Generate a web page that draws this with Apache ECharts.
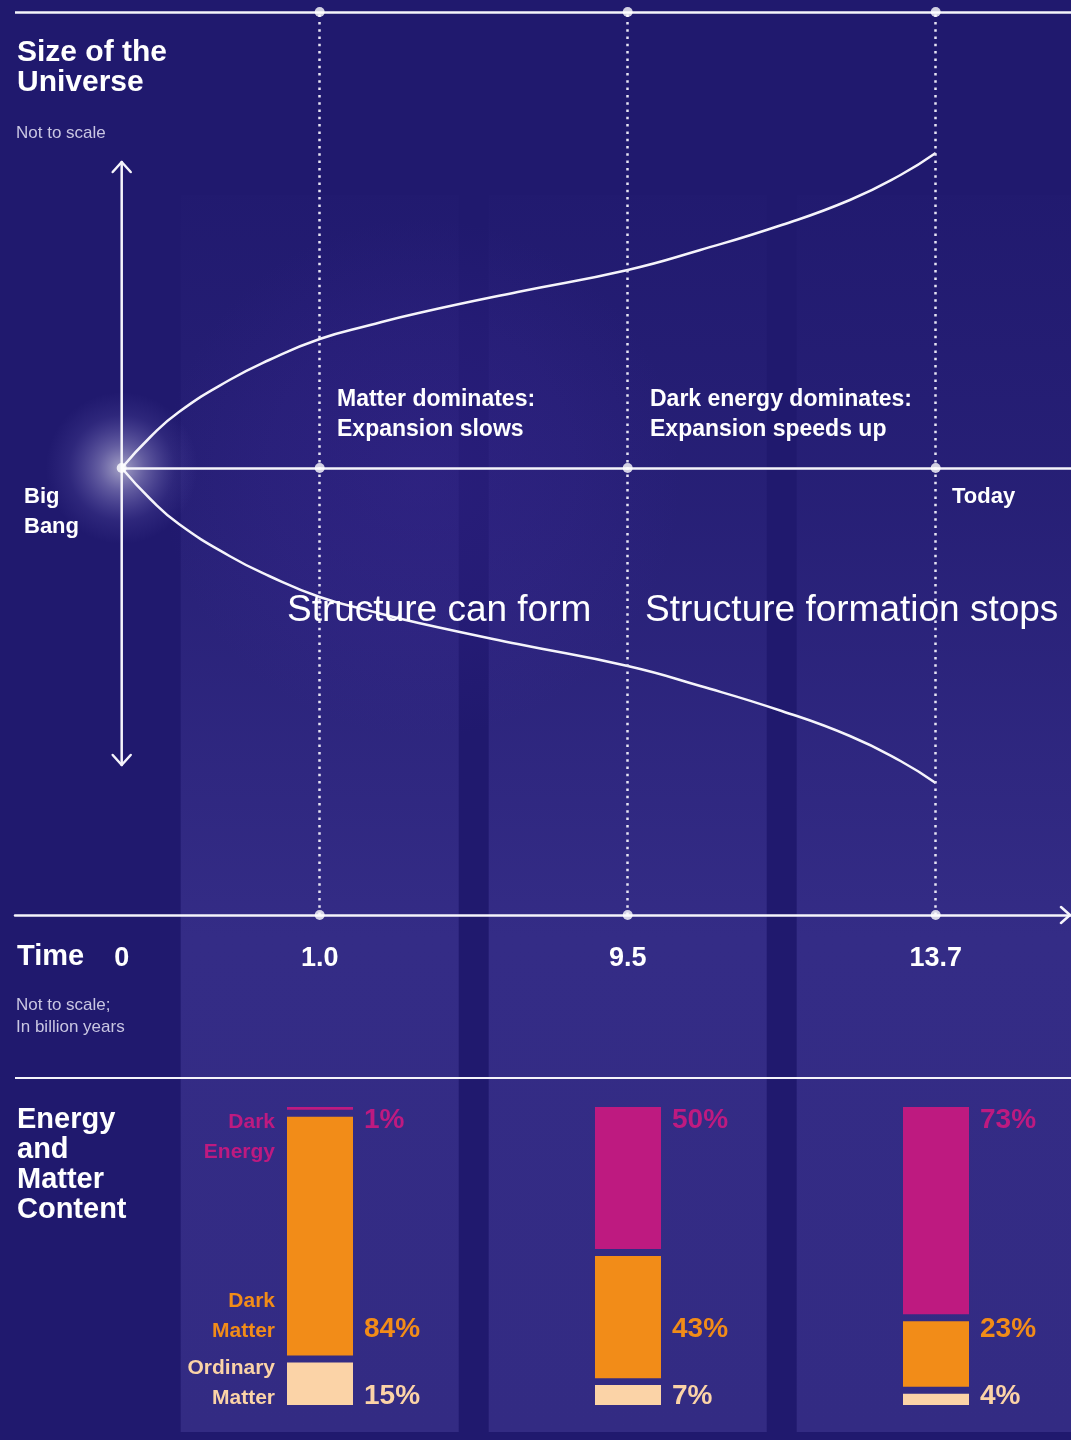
<!DOCTYPE html>
<html>
<head>
<meta charset="utf-8">
<title>Size of the Universe</title>
<script src="https://cdn.jsdelivr.net/npm/echarts@6/dist/echarts.min.js"></script>
<style>
  html, body { margin: 0; padding: 0; background: #20196e; }
  #main { width: 1071px; height: 1440px; }
</style>
</head>
<body>
<div id="main"></div>
<script>
// Time axis: layout positions (not to scale) and their labels in billion years
const timeStops = [0, 9, 23, 37];
const timeLabels = ['0', '1.0', '9.5', '13.7'];

// Size of the universe (radius, arbitrary units) along the time axis
const curveTime = [0, 1.3, 2.6, 4.9, 6.7, 9, 11.3, 13.5, 18, 23, 26.3, 30, 33.1, 35.4, 37];
const curveSize = [0, 31, 56, 88, 108, 129, 143, 155, 176, 198, 218, 243, 268, 293, 315];

// Energy and matter content (%) at 1.0, 9.5 and 13.7 billion years
const contentEpochs = ['1.0', '9.5', '13.7'];
const darkEnergy = [1, 50, 73];
const darkMatter = [84, 43, 23];
const ordinaryMatter = [15, 7, 4];

// ---- styling constants ----
const FONT = '"Liberation Sans", Arial, Helvetica, sans-serif';
const WHITE = '#f5f4fb';
const C_ENERGY = '#be1a80';
const C_DARK = '#f28c18';
const C_ORD = '#fbd3a7';
const X_MIN = -4.85, X_MAX = 43.15;   // time axis span across the page
const FRAME_TOP = 456, FRAME_BOTTOM = -447; // frame lines in size-axis units
const GAP = 2.46;                      // visual spacing between stacked segments

const pair = (xs, ys) => xs.map((x, i) => [x, ys[i]]);

const makeGap = () => ({
  type: 'bar', xAxisIndex: 1, yAxisIndex: 1, stack: 'content', barWidth: 66,
  silent: true, itemStyle: { color: 'rgba(0,0,0,0)' },
  data: contentEpochs.map(() => GAP)
});

function contentSeries(name, values, color, rowY) {
  return {
    name: name, type: 'bar', xAxisIndex: 1, yAxisIndex: 1, stack: 'content',
    barWidth: 66, itemStyle: { color: color },
    data: values,
    label: {
      show: true, position: 'right', color: color,
      fontFamily: FONT, fontWeight: 'bold', fontSize: 28,
      formatter: '{c}%'
    },
    labelLayout: p => ({
      x: p.rect.x + p.rect.width + 11,
      y: rowY(p.rect),
      align: 'left', verticalAlign: 'middle'
    })
  };
}

const option = {
  backgroundColor: '#20196e',
  animation: false,
  grid: [
    { left: 15, right: 0, top: 12, height: 903 },
    // content bars sit under the 1.0, 9.5 and 13.7 ticks
    { left: 320, right: 135, top: 1107, height: 298 }
  ],
  xAxis: [
    {
      type: 'value', gridIndex: 0, min: X_MIN, max: X_MAX,
      axisLine: { show: true, onZero: false, lineStyle: { color: WHITE, width: 2.5 } },
      axisTick: { show: false, customValues: timeStops },
      splitLine: { show: false },
      axisLabel: {
        customValues: timeStops,
        formatter: v => timeLabels[timeStops.indexOf(v)],
        color: '#ffffff', fontFamily: FONT, fontWeight: 'bold', fontSize: 27, margin: 30
      }
    },
    { type: 'category', gridIndex: 1, data: contentEpochs, boundaryGap: false, show: false }
  ],
  yAxis: [
    { type: 'value', gridIndex: 0, min: FRAME_BOTTOM, max: FRAME_TOP, show: false },
    { type: 'value', gridIndex: 1, min: 0, max: 100 + 2 * GAP, show: false }
  ],
  series: [
    {
      name: 'expansion-upper', type: 'line', xAxisIndex: 0, yAxisIndex: 0,
      data: pair(curveTime, curveSize),
      smooth: 0.5, symbol: 'none', silent: true,
      lineStyle: { color: WHITE, width: 2.5 },
      markLine: {
        silent: true, symbol: ['none', 'none'], label: { show: false },
        data: [
          ...timeStops.slice(1).map(t => ({
            xAxis: t, lineStyle: { type: [2.5, 4.8], width: 2.5, color: '#e6e4f3' }
          })),
          { yAxis: FRAME_TOP, lineStyle: { type: 'solid', width: 2.5, color: WHITE } },
          [
            { coord: [0, 0], lineStyle: { type: 'solid', width: 2.5, color: WHITE } },
            { coord: [X_MAX, 0] }
          ]
        ]
      }
    },
    {
      name: 'expansion-lower', type: 'line', xAxisIndex: 0, yAxisIndex: 0,
      data: pair(curveTime, curveSize.map(s => -s)),
      smooth: 0.5, symbol: 'none', silent: true,
      lineStyle: { color: WHITE, width: 2.5 }
    },
    {
      name: 'milestones', type: 'scatter', xAxisIndex: 0, yAxisIndex: 0,
      symbolSize: 10, silent: true, clip: false, z: 5,
      itemStyle: { color: '#ffffff' },
      data: [
        ...timeStops.map(t => [t, 0]),
        ...timeStops.slice(1).map(t => [t, FRAME_TOP]),
        ...timeStops.slice(1).map(t => [t, FRAME_BOTTOM])
      ]
    },
    contentSeries('Ordinary Matter', ordinaryMatter, C_ORD, r => r.y + r.height - 9),
    makeGap(),
    contentSeries('Dark Matter', darkMatter, C_DARK, () => 1329),
    makeGap(),
    contentSeries('Dark Energy', darkEnergy, C_ENERGY, r => r.y + 13)
  ]
};

const chart = echarts.init(document.getElementById('main'), null, { renderer: 'canvas' });
chart.setOption(option);

// ---- decorations placed from the axes ----
const px = (t, s) => chart.convertToPixel({ gridIndex: 0 }, [t, s]);
const origin = px(0, 0);
const arrowTop = px(0, 306);
const arrowBottom = px(0, -297);
const axisEnd = px(X_MAX, FRAME_BOTTOM);

function text(x, y, str, opts) {
  return {
    type: 'text', x: x, y: y, z: 20, silent: true,
    style: Object.assign({
      text: str, fill: '#ffffff', fontFamily: FONT, fontSize: 22, fontWeight: 'bold',
      align: 'left', verticalAlign: 'middle'
    }, opts || {})
  };
}

const panelElements = timeStops.slice(1).map(t => {
  const cx = px(t, 0)[0];
  return {
    type: 'rect', z: -10, silent: true,
    shape: { x: cx - 139, y: 195, width: 278, height: 1237 },
    style: {
      fill: new echarts.graphic.LinearGradient(0, 0, 0, 1, [
        { offset: 0, color: 'rgba(52,44,134,0.06)' },
        { offset: 0.25, color: 'rgba(52,44,134,0.35)' },
        { offset: 0.6, color: 'rgba(52,44,134,1)' },
        { offset: 1, color: 'rgba(51,43,131,1)' }
      ])
    }
  };
});

const lineStyle = { stroke: WHITE, lineWidth: 2.5, fill: null, lineCap: 'round', lineJoin: 'round' };

chart.setOption({
  graphic: [
    ...panelElements,
    // violet haze around the young universe
    {
      type: 'ellipse', z: -9, silent: true,
      shape: { cx: origin[0] + 300, cy: origin[1] + 10, rx: 420, ry: 260 },
      style: {
        fill: new echarts.graphic.RadialGradient(0.5, 0.5, 0.5, [
          { offset: 0, color: 'rgba(70,45,165,0.22)' },
          { offset: 0.6, color: 'rgba(70,45,165,0.12)' },
          { offset: 1, color: 'rgba(70,45,165,0)' }
        ])
      }
    },
    // Big Bang glow
    {
      type: 'circle', z: -8, silent: true,
      shape: { cx: origin[0], cy: origin[1], r: 76 },
      style: {
        fill: new echarts.graphic.RadialGradient(0.5, 0.5, 0.5, [
          { offset: 0, color: 'rgba(255,255,255,0.6)' },
          { offset: 0.3, color: 'rgba(225,220,255,0.35)' },
          { offset: 0.7, color: 'rgba(170,160,240,0.1)' },
          { offset: 1, color: 'rgba(150,140,230,0)' }
        ])
      }
    },
    // separator above the content section
    {
      type: 'line', z: 1, silent: true,
      shape: { x1: 15, y1: 1078, x2: 1071, y2: 1078 },
      style: { stroke: WHITE, lineWidth: 2 }
    },
    // size arrow
    {
      type: 'line', z: 1, silent: true,
      shape: { x1: arrowTop[0], y1: arrowTop[1], x2: arrowBottom[0], y2: arrowBottom[1] },
      style: lineStyle
    },
    {
      type: 'polyline', z: 1, silent: true,
      shape: { points: [[arrowTop[0] - 9, arrowTop[1] + 10], arrowTop, [arrowTop[0] + 9, arrowTop[1] + 10]] },
      style: lineStyle
    },
    {
      type: 'polyline', z: 1, silent: true,
      shape: { points: [[arrowBottom[0] - 9, arrowBottom[1] - 10], arrowBottom, [arrowBottom[0] + 9, arrowBottom[1] - 10]] },
      style: lineStyle
    },
    // time axis arrowhead
    {
      type: 'polyline', z: 1, silent: true,
      shape: { points: [[axisEnd[0] - 10, axisEnd[1] - 8], [axisEnd[0] - 1, axisEnd[1]], [axisEnd[0] - 10, axisEnd[1] + 8]] },
      style: lineStyle
    },
    // headings and notes
    text(17, 38, 'Size of the\nUniverse', { fontSize: 30, lineHeight: 30, verticalAlign: 'top' }),
    text(16, 133, 'Not to scale', { fontSize: 17, fontWeight: 'normal', fill: '#c9c6e2' }),
    text(24, 482, 'Big\nBang', { lineHeight: 30, verticalAlign: 'top' }),
    text(337, 385, 'Matter dominates:\nExpansion slows', { fontSize: 23, lineHeight: 30, verticalAlign: 'top' }),
    text(650, 385, 'Dark energy dominates:\nExpansion speeds up', { fontSize: 23, lineHeight: 30, verticalAlign: 'top' }),
    text(952, 497, 'Today'),
    text(287, 611, 'Structure can form', { fontSize: 37, fontWeight: 'normal' }),
    text(645, 611, 'Structure formation stops', { fontSize: 37, fontWeight: 'normal' }),
    text(17, 957, 'Time', { fontSize: 29 }),
    text(16, 994, 'Not to scale;\nIn billion years', { fontSize: 17, fontWeight: 'normal', fill: '#c9c6e2', lineHeight: 22, verticalAlign: 'top' }),
    text(17, 1105, 'Energy\nand\nMatter\nContent', { fontSize: 29, lineHeight: 30, verticalAlign: 'top' }),
    // segment names beside the first bar
    text(275, 1107, 'Dark\nEnergy', { fontSize: 21, lineHeight: 30, verticalAlign: 'top', align: 'right', fill: C_ENERGY }),
    text(275, 1286, 'Dark\nMatter', { fontSize: 21, lineHeight: 30, verticalAlign: 'top', align: 'right', fill: C_DARK }),
    text(275, 1353, 'Ordinary\nMatter', { fontSize: 21, lineHeight: 30, verticalAlign: 'top', align: 'right', fill: C_ORD })
  ]
});
</script>
</body>
</html>
